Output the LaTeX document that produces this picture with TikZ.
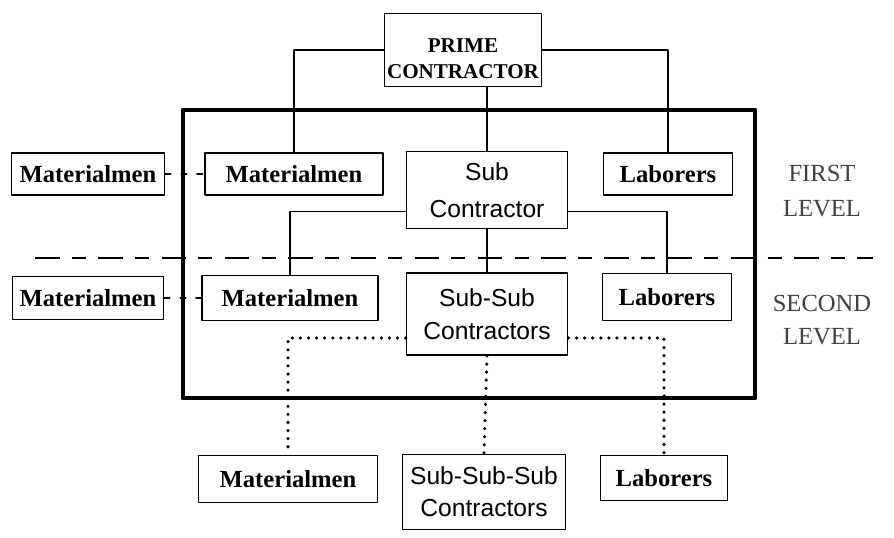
\documentclass[tikz,border=0pt]{standalone}
\usepackage{fontspec}
\setmainfont{Liberation Serif}
\setsansfont{Liberation Sans}
\tikzset{
	box/.style={draw, line width=1.1pt, inner sep=0pt, align=center, font=\bfseries\fontsize{14}{16}\selectfont},
	subbox/.style={box, font=\sffamily\fontsize{14}{21}\selectfont},
	link/.style={line width=1.1pt},
	dotlink/.style={line width=2pt, dash pattern=on 0pt off 4.6pt},
	lvl/.style={align=center, text=black!75, font=\fontsize{14}{20}\selectfont}
}
\begin{document}
\begin{tikzpicture}[line join=round, line cap=round, x=0.02cm, y=-0.02cm]
			\useasboundingbox (0,0) rectangle (894,538);
			\draw[line width=2.8pt, line cap=butt] (183,110) rectangle (755,398);
			\draw[line width=1.2pt, line cap=butt, dash pattern=on 14pt off 7pt on 8pt off 7pt] (35,258) -- (873,258);
			\node[box, font=\bfseries\fontsize{12}{15}\selectfont, minimum width=3.14cm, minimum height=1.46cm] (prime) at (463,50) {\rule{0pt}{18pt}PRIME\\CONTRACTOR};
			\node[box, minimum width=3.06cm, minimum height=0.84cm] (mat1o) at (88,174) {Materialmen};
			\node[box, minimum width=3.56cm, minimum height=0.84cm] (mat1i) at (294,174) {Materialmen};
			\node[subbox, minimum width=3.22cm, minimum height=1.54cm] (sub1) at (487,190) {Sub\\Contractor};
			\node[box, minimum width=2.58cm, minimum height=0.84cm] (lab1) at (668,174) {Laborers};
			\node[box, minimum width=3.02cm, minimum height=0.86cm] (mat2o) at (88,298) {Materialmen};
			\node[box, minimum width=3.52cm, minimum height=0.9cm] (mat2i) at (290,298) {Materialmen};
			\node[subbox, font=\sffamily\fontsize{14}{19}\selectfont, minimum width=3.22cm, minimum height=1.64cm] (sub2) at (487,314) {Sub-Sub\\Contractors};
			\node[box, minimum width=2.58cm, minimum height=0.94cm] (lab2) at (667,297) {Laborers};
			\node[box, minimum width=3.58cm, minimum height=0.94cm] (mat3) at (288,479) {Materialmen};
			\node[subbox, font=\sffamily\fontsize{14}{18}\selectfont, minimum width=3.26cm, minimum height=1.5cm] (sub3) at (484,492) {Sub-Sub-Sub\\Contractors};
			\node[box, minimum width=2.54cm, minimum height=0.9cm] (lab3) at (664,478) {Laborers};
			\node[lvl] (first) at (822,191) {FIRST\\LEVEL};
			\node[lvl, font=\fontsize{14}{19}\selectfont] (second) at (822,320) {SECOND\\LEVEL};
			\draw[link] (prime.west) -| (mat1i.north);
			\draw[link] (prime.east) -| (lab1.north);
			\draw[link] (sub1.north) -- (sub1.north |- prime.south);
			\draw[link, dash pattern=on 3pt off 6pt] (mat1o.east) -- (mat1i.west);
			\draw[link] ([yshift=-0.43cm]sub1.west) -| (mat2i.north);
			\draw[link] ([yshift=-0.43cm]sub1.east) -| (lab2.north);
			\draw[link] (sub1.south) -- (sub2.north);
			\draw[link, dash pattern=on 3pt off 6pt] (mat2o.east) -- (mat2i.west);
			\draw[dotlink] ([yshift=-0.48cm]sub2.west) -| (mat3.north);
			\draw[dotlink] ([yshift=-0.48cm]sub2.east) -| (lab3.north);
			\draw[dotlink] (sub2.south) -- (sub3.north);
\end{tikzpicture}
\end{document}
